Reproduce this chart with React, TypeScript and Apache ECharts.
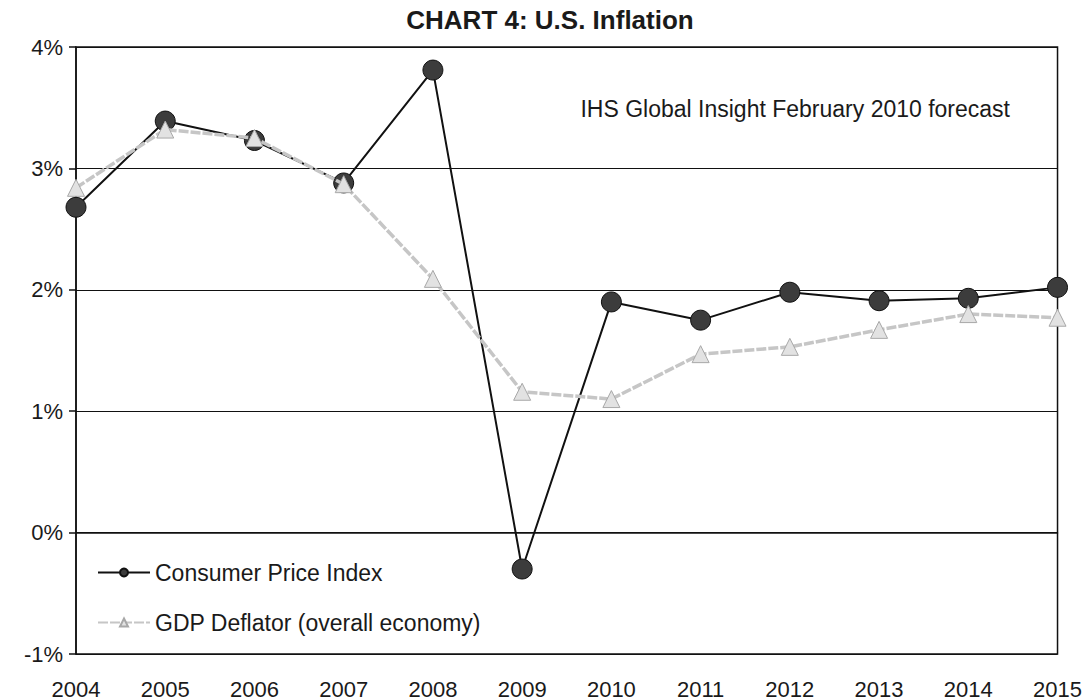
import React, { useEffect, useRef } from "react";
import * as echarts from "echarts";

const years = ["2004", "2005", "2006", "2007", "2008", "2009", "2010", "2011", "2012", "2013", "2014", "2015"];
const cpi = [2.68, 3.39, 3.23, 2.88, 3.81, -0.3, 1.9, 1.75, 1.98, 1.91, 1.93, 2.02];
const gdpDeflator = [2.84, 3.32, 3.25, 2.87, 2.09, 1.16, 1.1, 1.47, 1.53, 1.67, 1.8, 1.77];
const yTicks = { min: -1, max: 4, interval: 1 };
const titleText = "CHART 4: U.S. Inflation";
const noteText = "IHS Global Insight February 2010 forecast";
const seriesNames = ["Consumer Price Index", "GDP Deflator (overall economy)"];

const FONT = "'Liberation Sans', Arial, sans-serif";

export default function App() {
  const ref = useRef<HTMLDivElement>(null);
  useEffect(() => {
    if (!ref.current) return;
    const chart = echarts.init(ref.current, null, { renderer: "svg" });
    chart.setOption({
      animation: false,
      backgroundColor: "#ffffff",
      textStyle: { fontFamily: FONT },
      title: {
        text: titleText,
        left: 545,
        top: 2,
        textAlign: "center",
        textStyle: { fontFamily: FONT, fontSize: 26, fontWeight: "bold", color: "#1a1a1a" },
      },
      graphic: [
        {
          type: "text",
          right: 75,
          top: 97,
          style: { text: noteText, fontFamily: FONT, fontSize: 23, fill: "#1a1a1a" },
        },
      ],
      legend: {
        orient: "vertical",
        left: 92,
        top: 556,
        itemWidth: 52,
        itemHeight: 10,
        itemGap: 27,
        textStyle: { fontFamily: FONT, fontSize: 23, color: "#1a1a1a" },
        data: seriesNames,
      },
      grid: {
        left: 76,
        right: 23,
        top: 47,
        bottom: 45,
        show: true,
        borderColor: "#111",
        borderWidth: 1.5,
        containLabel: false,
      },
      xAxis: {
        type: "category",
        data: years,
        boundaryGap: false,
        axisLine: { show: true, lineStyle: { color: "#111", width: 1.5 } },
        axisTick: { show: false },
        axisLabel: { fontFamily: FONT, fontSize: 22, color: "#1a1a1a", margin: 24 },
        splitLine: { show: false },
      },
      yAxis: {
        type: "value",
        min: yTicks.min,
        max: yTicks.max,
        interval: yTicks.interval,
        axisLine: { show: true, lineStyle: { color: "#111", width: 1.5 } },
        axisTick: { show: true, inside: false, length: 7, lineStyle: { color: "#111", width: 1.5 } },
        axisLabel: {
          fontFamily: FONT,
          fontSize: 22,
          color: "#1a1a1a",
          margin: 13,
          formatter: (v: number) => `${v}%`,
        },
        splitLine: { show: true, lineStyle: { color: "#111", width: 1.2 } },
      },
      series: [
        {
          name: seriesNames[0],
          type: "line",
          data: cpi,
          symbol: "circle",
          symbolSize: 20,
          lineStyle: { color: "#111", width: 2 },
          itemStyle: { color: "#3c3c3c", borderColor: "#111", borderWidth: 1 },
          z: 2,
        },
        {
          name: seriesNames[1],
          type: "line",
          data: gdpDeflator,
          symbol: "triangle",
          symbolSize: 17,
          lineStyle: { color: "#c6c6c6", width: 3.5, type: [10, 2] },
          itemStyle: { color: "#e2e2e2", borderColor: "#a8a8a8", borderWidth: 1 },
          z: 3,
        },
      ],
    });
    return () => chart.dispose();
  }, []);
  return <div ref={ref} style={{ position: "fixed", left: 0, top: 0, width: 1085, height: 700 }} />;
}
